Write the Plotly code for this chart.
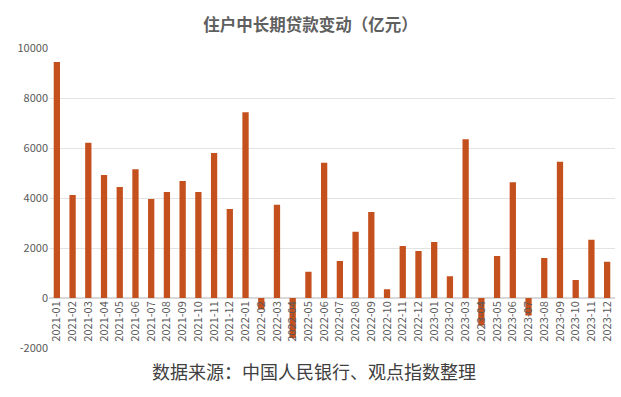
import plotly.graph_objects as go

months = ["2021-01","2021-02","2021-03","2021-04","2021-05","2021-06","2021-07","2021-08","2021-09","2021-10","2021-11","2021-12",
          "2022-01","2022-02","2022-03","2022-04","2022-05","2022-06","2022-07","2022-08","2022-09","2022-10","2022-11","2022-12",
          "2023-01","2023-02","2023-03","2023-04","2023-05","2023-06","2023-07","2023-08","2023-09","2023-10","2023-11","2023-12"]
values = [9440, 4120, 6210, 4920, 4440, 5150, 3960, 4240, 4680, 4240, 5800, 3560,
          7430, -460, 3730, -1600, 1050, 5410, 1480, 2650, 3440, 350, 2080, 1880,
          2240, 870, 6350, -1100, 1680, 4630, -700, 1600, 5450, 720, 2330, 1450]
y_ticks = [-2000, 0, 2000, 4000, 6000, 8000, 10000]
y_min, y_max = -2000, 10000

font = "Noto Sans CJK SC"
fig = go.Figure(go.Bar(x=months, y=values, marker_color="#C4501E", marker_line_width=0, width=0.4))
fig.update_layout(
    width=621, height=397,
    margin=dict(l=49, r=6, t=48, b=49),
    paper_bgcolor="white", plot_bgcolor="white",
    font=dict(family=font, color="#595959"),
    showlegend=False,
    title=dict(text="<b>住户中长期贷款变动（亿元）</b>", x=0.5, xanchor="center", y=0.937, yanchor="middle",
               font=dict(size=16.5, color="#5f5f5f", family=font)),
    xaxis=dict(type="category", tickangle=-90, tickfont=dict(size=11, color="#595959"),
               showgrid=False, showline=False, ticks="", automargin=False,
               anchor="free", position=(0 - y_min) / (y_max - y_min)),
    yaxis=dict(range=[y_min, y_max], tickvals=y_ticks, ticktext=[str(v) for v in y_ticks],
               tickfont=dict(size=11, color="#595959"),
               showgrid=True, gridcolor="#E3E3E3", zeroline=True, zerolinecolor="#D9D9D9",
               ticks="", automargin=False),
    annotations=[dict(text="数据来源：中国人民银行、观点指数整理", xref="paper", yref="paper",
                      x=0.468, y=-0.078, xanchor="center", yanchor="middle", showarrow=False,
                      font=dict(size=18, color="#404040", family=font))],
)
fig.write_html("out.html", config={"displayModeBar": False},
               post_script="document.body.style.margin='0';")
